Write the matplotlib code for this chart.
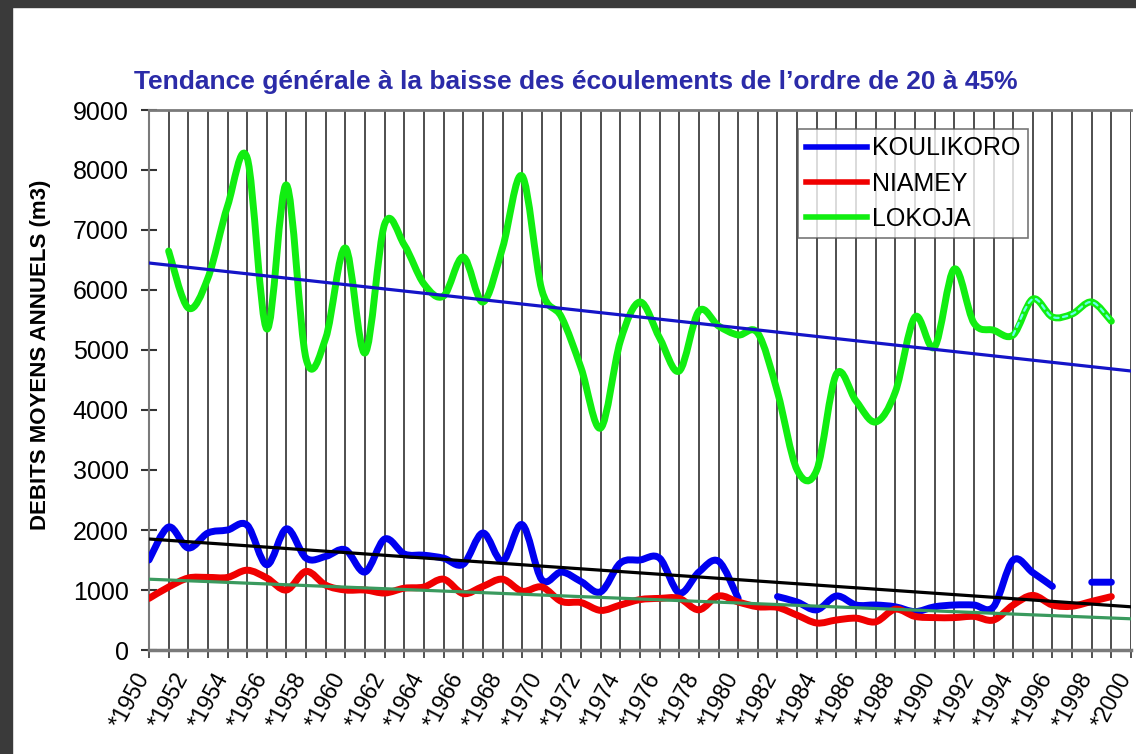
import numpy as np
import matplotlib
matplotlib.use('Agg')
import matplotlib.pyplot as plt
import matplotlib.transforms as mtransforms
from matplotlib.path import Path
from matplotlib.patches import PathPatch, Rectangle
from matplotlib.lines import Line2D

plt.rcParams['font.family'] = ['Liberation Sans', 'DejaVu Sans']

nan = np.nan
years = list(range(1950, 2001))

koulikoro = [1500, 2050, 1700, 1950, 2000, 2080, 1420, 2020, 1530, 1560,
             1670, 1300, 1850, 1600, 1580, 1530, 1430, 1950, 1480, 2090,
             1170, 1300, 1140, 970, 1450, 1500, 1530, 950, 1300, 1480,
             860, nan, 890, 800, 670, 900, 750, 750, 720, 640,
             720, 750, 750, 720, 1500, 1290, 1060, nan, 1130, 1130, nan]

niamey = [860, 1050, 1200, 1210, 1210, 1330, 1200, 1000, 1310, 1080,
          1000, 1000, 950, 1030, 1050, 1180, 940, 1060, 1180, 980,
          1050, 810, 790, 660, 750, 840, 860, 860, 670, 900,
          800, 720, 710, 580, 450, 500, 530, 470, 680, 560,
          540, 540, 560, 500, 750, 910, 750, 730, 810, 890, nan]

lokoja = [nan, 6650, 5700, 6200, 7400, 8200, 5350, 7750, 4850, 5200,
          6700, 4950, 7100, 6750, 6100, 5900, 6550, 5800, 6700, 7900,
          6000, 5550, 4700, 3700, 5150, 5800, 5200, 4650, 5650, 5400,
          5250, 5280, 4300, 3000, 3000, 4600, 4150, 3800, 4300, 5550,
          5050, 6350, 5450, 5330, 5250, 5850, 5550, 5600, 5800, 5480, nan]

# trend lines (start 1950, end 2000)
trend_years = [1950, 2000]
trend_lokoja = [6450, 4650]
trend_koulikoro = [1850, 720]
trend_niamey = [1180, 520]

title = 'Tendance générale à la baisse des écoulements de l’ordre de 20 à 45%'
ylabel = 'DEBITS MOYENS ANNUELS (m3)'

C_BLUE = '#0000f0'
C_RED = '#f00000'
C_GREEN = '#11ee11'


def smooth_segments(ax, x, y, color, lw, z=3, ls='-'):
    # excel-like smoothed line, split where values are missing
    x = np.asarray(x, float)
    y = np.asarray(y, float)
    ok = ~np.isnan(y)
    idx = np.where(ok)[0]
    if len(idx) == 0:
        return
    groups = np.split(idx, np.where(np.diff(idx) > 1)[0] + 1)
    for g in groups:
        gx, gy = x[g], y[g]
        n = len(gx)
        verts = [(gx[0], gy[0])]
        codes = [Path.MOVETO]
        for i in range(n - 1):
            p0 = i - 1 if i > 0 else i
            p3 = i + 2 if i + 2 < n else i + 1
            c1 = (gx[i] + (gx[i + 1] - gx[p0]) / 6, gy[i] + (gy[i + 1] - gy[p0]) / 6)
            c2 = (gx[i + 1] - (gx[p3] - gx[i]) / 6, gy[i + 1] - (gy[p3] - gy[i]) / 6)
            verts += [c1, c2, (gx[i + 1], gy[i + 1])]
            codes += [Path.CURVE4] * 3
        patch = PathPatch(Path(verts, codes), fill=False, edgecolor=color, lw=lw,
                          capstyle='round', joinstyle='round', zorder=z, linestyle=ls)
        ax.add_patch(patch)


fig = plt.figure(figsize=(11.36, 7.54), dpi=100)
fig.patch.set_facecolor('white')
ax = fig.add_axes([149 / 1136, 1 - 650 / 754, 982 / 1136, 540 / 754])

smooth_segments(ax, years, lokoja, C_GREEN, 5, z=3)
i0 = years.index(1994)
smooth_segments(ax, years[i0:], lokoja[i0:], '#66ffee', 1.6, z=3.5, ls=(0, (2, 2)))
smooth_segments(ax, years, koulikoro, C_BLUE, 5, z=3)
smooth_segments(ax, years, niamey, C_RED, 5, z=3)

ax.plot(trend_years, trend_lokoja, color='#1414c8', lw=2.3, zorder=4)
ax.plot(trend_years, trend_koulikoro, color='black', lw=2.3, zorder=4)
ax.plot(trend_years, trend_niamey, color='#3a9a5e', lw=2.3, zorder=4)

ax.set_xlim(1950, 2000)
ax.set_ylim(0, 9000)
ax.set_xticks(years)
ax.set_yticks(range(0, 9001, 1000))
ax.tick_params(axis='x', direction='out', length=6, width=1.2, color='#333333', pad=10)
ax.tick_params(axis='y', direction='inout', length=11, width=1.5, color='#333333', pad=9)
ax.set_xticklabels(['*' + str(y) if y % 2 == 0 else '' for y in years],
                   rotation=62, ha='right', va='center', rotation_mode='anchor', fontsize=16.5)
ax.set_yticklabels([str(v) for v in range(0, 9001, 1000)], fontsize=18)
# nudge the rotated year labels a little left, as in the original
shift = mtransforms.ScaledTranslation(-5 / 100, -2 / 100, fig.dpi_scale_trans)
for lab in ax.get_xticklabels():
    lab.set_transform(lab.get_transform() + shift)
ax.grid(axis='x', color='#1e1e1e', lw=1.1)
ax.set_axisbelow(True)

for s in ['top', 'bottom', 'left']:
    ax.spines[s].set_color('#7a7a7a')
ax.spines['top'].set_linewidth(2)
ax.spines['bottom'].set_linewidth(2.5)
ax.spines['left'].set_linewidth(1.5)
ax.spines['right'].set_visible(False)

handles = [Line2D([], [], color=C_BLUE, lw=4),
           Line2D([], [], color=C_RED, lw=4),
           Line2D([], [], color=C_GREEN, lw=4)]
leg = ax.legend(handles, ['KOULIKORO', 'NIAMEY', 'LOKOJA'], loc='upper left',
                bbox_to_anchor=(0.661, 0.965), fontsize=18, frameon=True, fancybox=False,
                handlelength=2.45, handletextpad=0.2, labelspacing=0.45,
                borderpad=0.3, borderaxespad=0)
leg.get_frame().set_edgecolor('#555555')
leg.get_frame().set_linewidth(1.2)
leg.set_zorder(6)

fig.text(0.507, 0.891, title, ha='center', va='center', fontsize=19,
         fontweight='bold', color='#2b2ba8')
fig.text(0.036, 0.529, ylabel, ha='center', va='center', rotation=90,
         fontsize=16, fontweight='bold')

# dark frame on the top and left edges
fig.patches.append(Rectangle((0, 0), 12 / 1136, 1, transform=fig.transFigure,
                             color='#3a3a3a', zorder=0))
fig.patches.append(Rectangle((0, 1 - 7 / 754), 1, 7 / 754, transform=fig.transFigure,
                             color='#3a3a3a', zorder=0))

fig.savefig('out.png', dpi=100)
